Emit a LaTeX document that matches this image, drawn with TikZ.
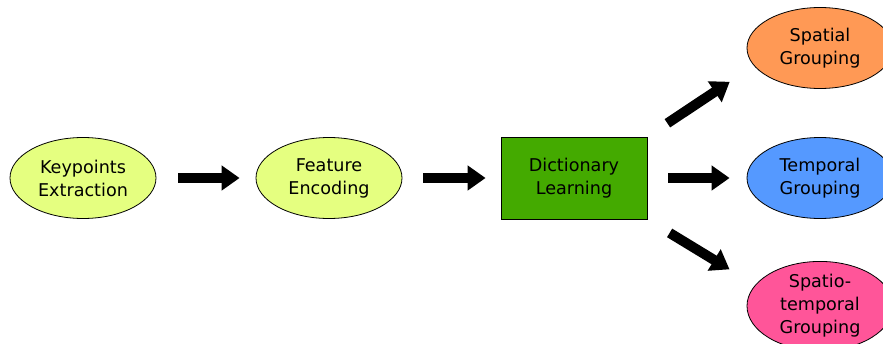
\documentclass[tikz,border=0pt]{standalone}
\usepackage{fontspec}
\setmainfont{DejaVu Sans}
\usetikzlibrary{arrows.meta,shapes.geometric}

\definecolor{limefill}{HTML}{E5FF80}
\definecolor{dictgreen}{HTML}{44AA00}
\definecolor{spatorange}{HTML}{FF9955}
\definecolor{tempblue}{HTML}{5599FF}
\definecolor{stpink}{HTML}{FF5599}

\tikzset{
    stage/.style={ellipse, draw=black, line width=0.8pt, inner sep=0pt,
        minimum width=146pt, minimum height=81pt, align=center,
        font=\fontsize{17.6}{23}\selectfont},
    dictbox/.style={rectangle, draw=black, line width=0.8pt, fill=dictgreen,
        minimum width=146pt, minimum height=82pt, align=center,
        font=\fontsize{17.6}{23}\selectfont},
    fatarrow/.style={line width=10pt, -{Triangle[length=18pt,width=24pt]}}
}

\begin{document}
\begin{tikzpicture}[x=1pt,y=-1pt]

\useasboundingbox (0,0) rectangle (883,343);

% Pipeline stages
\node[stage, fill=limefill] (kp) at (83,178) {Keypoints\\Extraction};
\node[stage, fill=limefill] (fe) at (329,178) {Feature\\Encoding};
\node[dictbox] (dl) at (574,178) {Dictionary\\Learning};

% Grouping outputs
\node[stage, fill=spatorange] (sg) at (820,48) {Spatial\\Grouping};
\node[stage, fill=tempblue] (tg) at (820,178) {Temporal\\Grouping};
\node[stage, fill=stpink] (stg) at (820,306) {Spatio-\\temporal\\Grouping};

% Arrows between stages
\draw[fatarrow, shorten <=22pt, shorten >=16pt] (kp) -- (fe);
\draw[fatarrow, shorten <=21pt, shorten >=15pt] (fe) -- (dl);
\draw[fatarrow, shorten <=21pt, shorten >=17pt] (dl) -- (tg);
\draw[fatarrow, shorten <=24pt, shorten >=29pt] (dl.north east) -- (sg.195);
\draw[fatarrow, shorten <=26pt, shorten >=30pt] (dl.south east) -- (stg.162);

\end{tikzpicture}
\end{document}
